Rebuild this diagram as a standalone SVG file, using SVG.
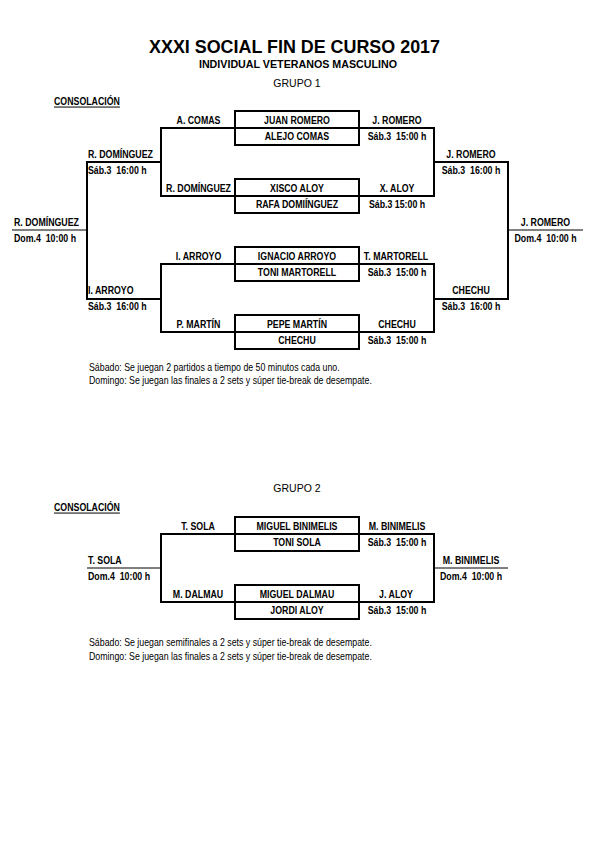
<svg xmlns="http://www.w3.org/2000/svg" width="595" height="842" viewBox="0 0 595 842">
<style>
text{fill:#000;white-space:pre}
.t,.n{font-family:"Liberation Sans Narrow","Arial Narrow","Liberation Sans",Arial,sans-serif;font-size:10px;transform-box:fill-box;transform-origin:0 50%;transform:scaleX(.88)}
.t{font-weight:bold}
.c{text-anchor:middle;transform-origin:50% 50%}
.u{text-decoration:underline}
.ln{stroke:#000;stroke-width:2;fill:none}
.thin{stroke:#000;stroke-width:1;fill:none}
.box{stroke:#000;stroke-width:2;fill:#fff}
</style>
<rect width="595" height="842" fill="#fff"/>
<g id="header">
<text x="294.5" y="53" font-family="Liberation Sans,Arial,sans-serif" font-weight="bold" font-size="17.9" text-anchor="middle">XXXI SOCIAL FIN DE CURSO 2017</text>
<text x="298" y="67.5" font-family="Liberation Sans,Arial,sans-serif" font-weight="bold" font-size="10.7" text-anchor="middle">INDIVIDUAL VETERANOS MASCULINO</text>
<text x="297" y="87" font-family="Liberation Sans,Arial,sans-serif" font-size="10.5" text-anchor="middle">GRUPO 1</text>
<text class="t u" x="54" y="105.5">CONSOLACIÓN</text>
</g>
<g id="connectors">
<path class="ln" d="M235,128H161V196H235"/>
<path class="ln" d="M161,162H87V299H161"/>
<path class="ln" d="M235,264H161V332H235"/>
<path class="ln" d="M359,128H434V196H359"/>
<path class="ln" d="M434,162H508V299H434"/>
<path class="ln" d="M359,264H434V332H359"/>
<path class="thin" d="M12,230H87"/>
<path class="thin" d="M508,230H583"/>
<path class="ln" d="M235,534H161V602H235"/>
<path class="ln" d="M359,534H434V602H359"/>
<path class="thin" d="M87,568H161"/>
<path class="thin" d="M434,568H508"/>
</g>
<g id="m1"><rect class="box" x="235" y="111" width="124" height="34"/><path class="ln" d="M235,128H359"/><text class="t c" x="297" y="124">JUAN ROMERO</text><text class="t c" x="297" y="140">ALEJO COMAS</text></g>
<g id="m2"><rect class="box" x="235" y="179" width="124" height="34"/><path class="ln" d="M235,196H359"/><text class="t c" x="297" y="192">XISCO ALOY</text><text class="t c" x="297" y="208">RAFA DOMIÍNGUEZ</text></g>
<g id="m3"><rect class="box" x="235" y="247" width="124" height="34"/><path class="ln" d="M235,264H359"/><text class="t c" x="297" y="260">IGNACIO ARROYO</text><text class="t c" x="297" y="276">TONI MARTORELL</text></g>
<g id="m4"><rect class="box" x="235" y="315" width="124" height="34"/><path class="ln" d="M235,332H359"/><text class="t c" x="297" y="328">PEPE MARTÍN</text><text class="t c" x="297" y="344">CHECHU</text></g>
<g id="l1"><text class="t c" x="198.5" y="124">A. COMAS</text></g>
<g id="l2"><text class="t c" x="198.5" y="192">R. DOMÍNGUEZ</text></g>
<g id="l3"><text class="t c" x="198.5" y="260">I. ARROYO</text></g>
<g id="l4"><text class="t c" x="198.5" y="328">P. MARTÍN</text></g>
<g id="r1"><text class="t c" x="397" y="124">J. ROMERO</text><text class="t c" x="397" y="140">Sáb.3  15:00 h</text></g>
<g id="r2"><text class="t c" x="397" y="192">X. ALOY</text><text class="t c" x="397" y="208">Sáb.3 15:00 h</text></g>
<g id="r3"><text class="t c" x="396" y="260">T. MARTORELL</text><text class="t c" x="397" y="276">Sáb.3  15:00 h</text></g>
<g id="r4"><text class="t c" x="397" y="328">CHECHU</text><text class="t c" x="397" y="344">Sáb.3  15:00 h</text></g>
<g id="sl1"><text class="t" x="88" y="158">R. DOMÍNGUEZ</text><text class="t" x="88" y="174">Sáb.3  16:00 h</text></g>
<g id="sl2"><text class="t" x="88" y="294">I. ARROYO</text><text class="t" x="88" y="310">Sáb.3  16:00 h</text></g>
<g id="sr1"><text class="t c" x="471" y="158">J. ROMERO</text><text class="t c" x="471" y="174">Sáb.3  16:00 h</text></g>
<g id="sr2"><text class="t c" x="471" y="294">CHECHU</text><text class="t c" x="471" y="310">Sáb.3  16:00 h</text></g>
<g id="fl"><text class="t" x="14" y="226">R. DOMÍNGUEZ</text><text class="t" x="14" y="242">Dom.4  10:00 h</text></g>
<g id="fr"><text class="t c" x="545.5" y="226">J. ROMERO</text><text class="t c" x="545.5" y="242">Dom.4  10:00 h</text></g>
<g id="notes1"><text class="n" x="89" y="371">Sábado: Se juegan 2 partidos a tiempo de 50 minutos cada uno.</text><text class="n" x="89" y="384.5">Domingo: Se juegan las finales a 2 sets y súper tie-break de desempate.</text></g>
<g id="header2">
<text x="297" y="492" font-family="Liberation Sans,Arial,sans-serif" font-size="10.5" text-anchor="middle">GRUPO 2</text>
<text class="t u" x="54" y="511.5">CONSOLACIÓN</text>
</g>
<g id="g2m1"><rect class="box" x="235" y="517" width="124" height="34"/><path class="ln" d="M235,534H359"/><text class="t c" x="297" y="530">MIGUEL BINIMELIS</text><text class="t c" x="297" y="546">TONI SOLA</text></g>
<g id="g2m2"><rect class="box" x="235" y="585" width="124" height="34"/><path class="ln" d="M235,602H359"/><text class="t c" x="297" y="598">MIGUEL DALMAU</text><text class="t c" x="297" y="614">JORDI ALOY</text></g>
<g id="g2l1"><text class="t c" x="198" y="530">T. SOLA</text></g>
<g id="g2l2"><text class="t c" x="198" y="598">M. DALMAU</text></g>
<g id="g2r1"><text class="t c" x="397" y="530">M. BINIMELIS</text><text class="t c" x="397" y="546">Sáb.3  15:00 h</text></g>
<g id="g2r2"><text class="t c" x="396" y="598">J. ALOY</text><text class="t c" x="397" y="614">Sáb.3  15:00 h</text></g>
<g id="g2fl"><text class="t" x="88" y="564">T. SOLA</text><text class="t" x="88" y="580">Dom.4  10:00 h</text></g>
<g id="g2fr"><text class="t c" x="471" y="564">M. BINIMELIS</text><text class="t c" x="471" y="580">Dom.4  10:00 h</text></g>
<g id="notes2"><text class="n" x="89" y="646">Sábado: Se juegan semifinales a 2 sets y súper tie-break de desempate.</text><text class="n" x="89" y="660">Domingo: Se juegan las finales a 2 sets y súper tie-break de desempate.</text></g>
</svg>
